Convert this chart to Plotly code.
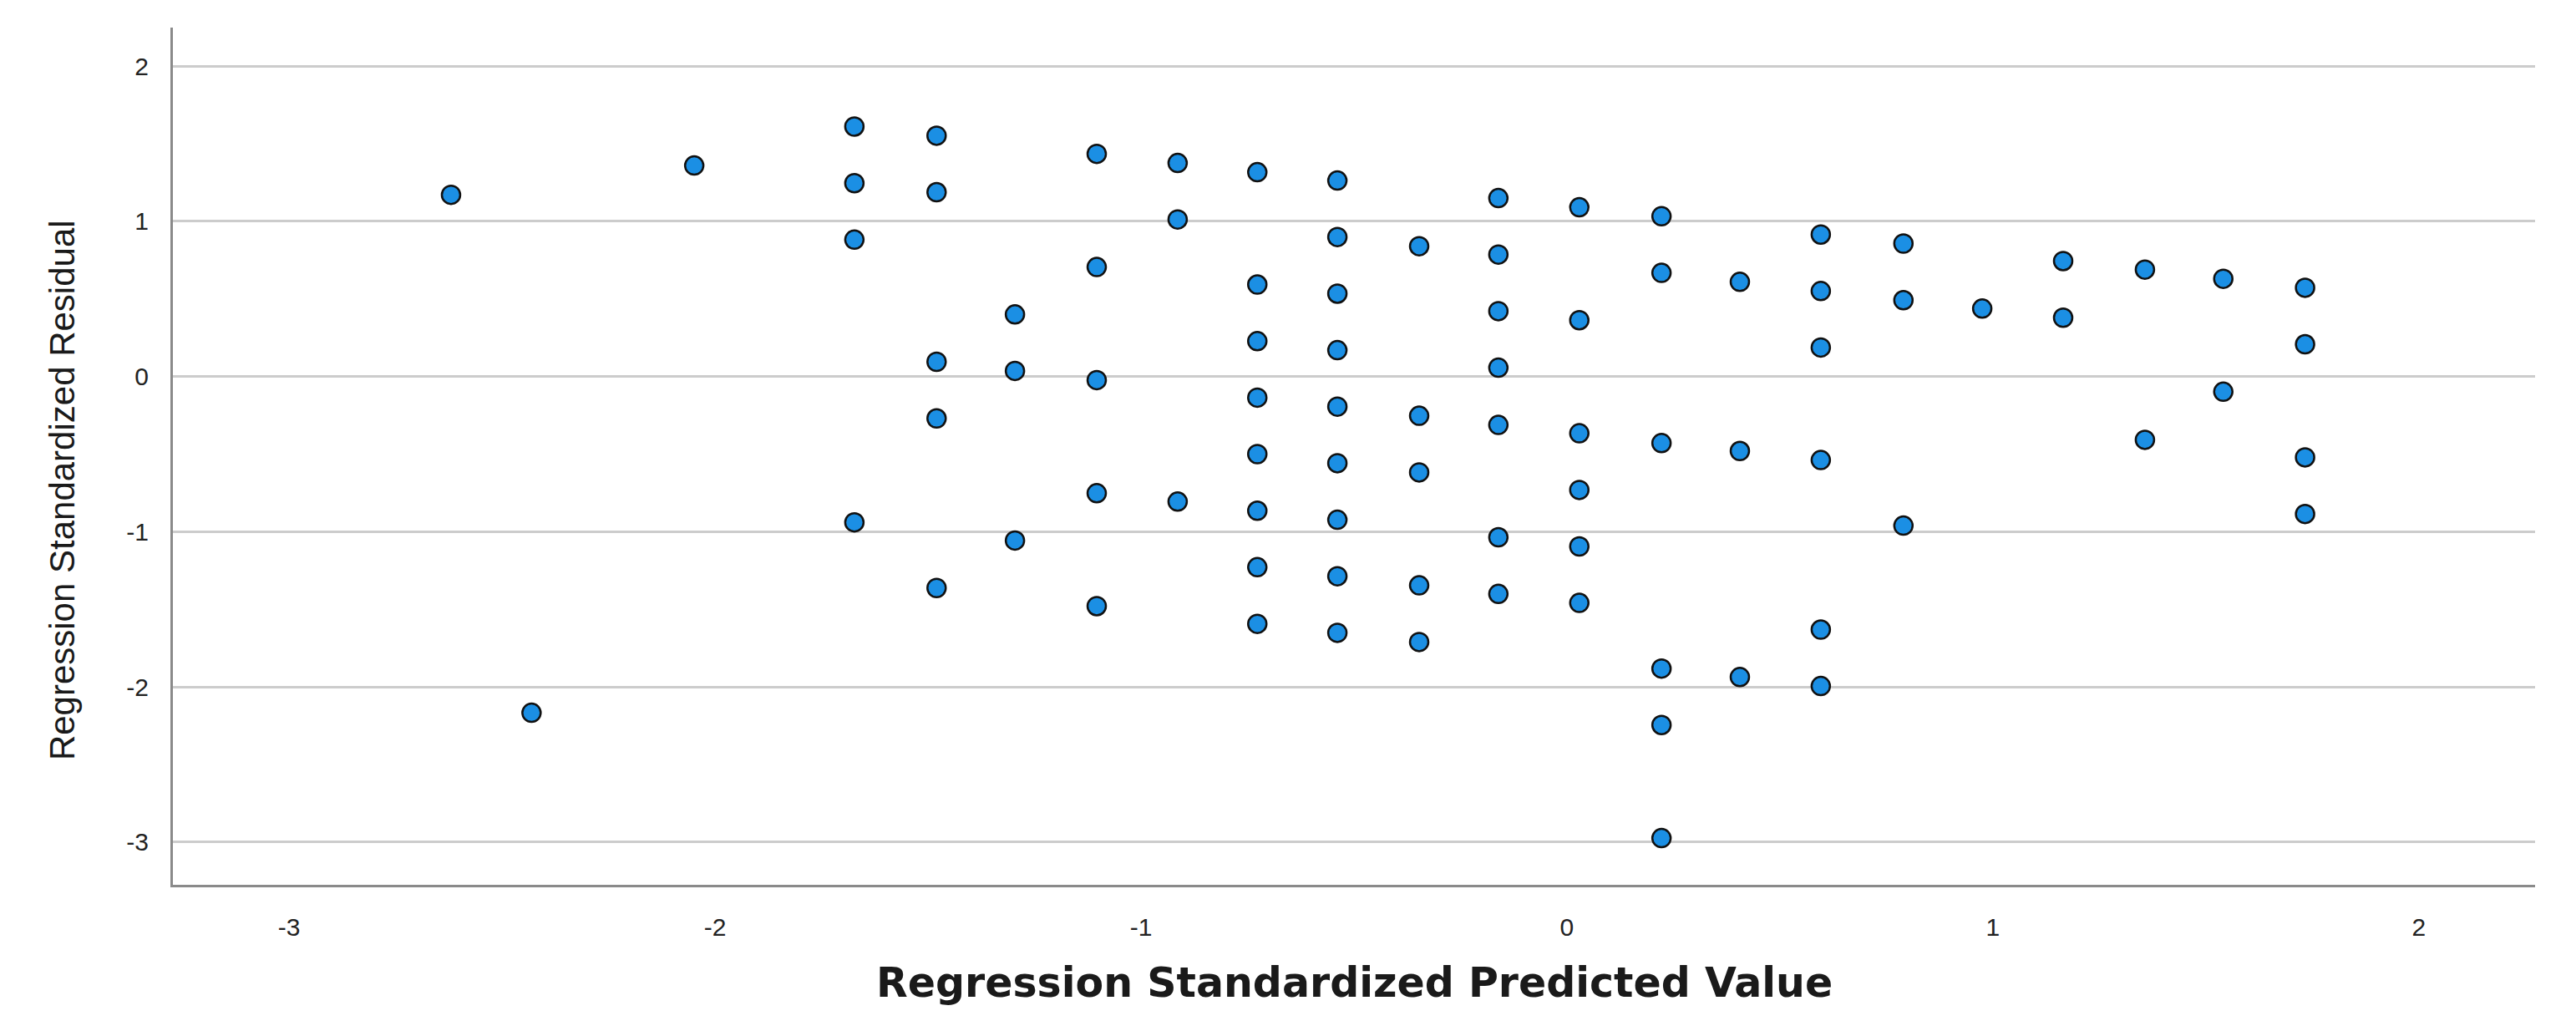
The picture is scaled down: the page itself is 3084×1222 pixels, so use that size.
import plotly.graph_objects as go

# Regression Standardized Predicted Value (x) and Residual (y)
pred_x = [
    -2.620,
    -2.431,
    -2.049,
    -1.673, -1.673, -1.673, -1.673,
    -1.480, -1.480, -1.480, -1.480, -1.480,
    -1.296, -1.296, -1.296,
    -1.104, -1.104, -1.104, -1.104, -1.104,
    -0.914, -0.914, -0.914,
    -0.727, -0.727, -0.727, -0.727, -0.727, -0.727, -0.727, -0.727,
    -0.539, -0.539, -0.539, -0.539, -0.539, -0.539, -0.539, -0.539, -0.539,
    -0.347, -0.347, -0.347, -0.347, -0.347,
    -0.161, -0.161, -0.161, -0.161, -0.161, -0.161, -0.161,
    0.029, 0.029, 0.029, 0.029, 0.029, 0.029,
    0.222, 0.222, 0.222, 0.222, 0.222, 0.222,
    0.406, 0.406, 0.406,
    0.596, 0.596, 0.596, 0.596, 0.596, 0.596,
    0.790, 0.790, 0.790,
    0.975,
    1.165, 1.165,
    1.357, 1.357,
    1.541, 1.541,
    1.733, 1.733, 1.733, 1.733,
]
resid_y = [
    1.171,
    -2.167,
    1.360,
    1.611, 1.246, 0.882, -0.940,
    1.552, 1.188, 0.095, -0.270, -1.363,
    0.400, 0.036, -1.057,
    1.435, 0.706, -0.023, -0.752, -1.480,
    1.376, 1.012, -0.806,
    1.317, 0.593, 0.228, -0.136, -0.500, -0.865, -1.229, -1.594,
    1.263, 0.899, 0.534, 0.170, -0.194, -0.559, -0.923, -1.287, -1.652,
    0.840, -0.253, -0.618, -1.346, -1.711,
    1.150, 0.786, 0.421, 0.057, -0.312, -1.036, -1.401,
    1.091, 0.363, -0.366, -0.731, -1.095, -1.459,
    1.033, 0.668, -0.429, -1.882, -2.246, -2.975,
    0.610, -0.480, -1.937,
    0.915, 0.551, 0.187, -0.538, -1.631, -1.995,
    0.857, 0.492, -0.961,
    0.438,
    0.744, 0.379,
    0.689, -0.408,
    0.630, -0.098,
    0.572, 0.208, -0.521, -0.886,
]
tick_vals = [-3, -2, -1, 0, 1, 2]
tick_text = ["-3", "-2", "-1", "0", "1", "2"]
x_title = "Regression Standardized Predicted Value"
y_title = "Regression Standardized Residual"

fig = go.Figure()
fig.add_trace(go.Scatter(
    x=pred_x, y=resid_y, mode="markers",
    marker=dict(size=22, color="#1b8fe4", line=dict(color="#111111", width=2.5)),
    showlegend=False, hoverinfo="x+y",
))

# page body adds an 8px offset, so the figure is 8px smaller and margins shifted
OFF = 8
W, H = 3084 - OFF, 1222 - OFF
L, R, T, B = 207 - OFF, 49, 33 - OFF, 163

fig.update_layout(
    width=W, height=H,
    margin=dict(l=L, r=R, t=T, b=B, pad=0),
    paper_bgcolor="white", plot_bgcolor="white",
    font=dict(family="Liberation Sans, Arial, sans-serif", size=30, color="#222222"),
    xaxis=dict(
        range=[-3.273, 2.273], tickvals=tick_vals, ticktext=tick_text,
        showgrid=False, zeroline=False,
        showline=True, linecolor="#8a8a8a", linewidth=3, ticks="",
        ticklabelstandoff=22, tickfont=dict(size=30, color="#222222"),
    ),
    yaxis=dict(
        range=[-3.276, 2.249], tickvals=tick_vals, ticktext=tick_text,
        showgrid=True, gridcolor="#cccccc", gridwidth=2.5, zeroline=False,
        showline=True, linecolor="#8a8a8a", linewidth=3, ticks="",
        ticklabelstandoff=20, tickfont=dict(size=30, color="#222222"),
    ),
    annotations=[
        dict(text="<b>" + x_title + "</b>", xref="paper", yref="paper", x=0.5, y=-0.115,
             xanchor="center", yanchor="middle", showarrow=False,
             font=dict(family="DejaVu Sans, Verdana, sans-serif", size=49, color="#1a1a1a")),
        dict(text=y_title, xref="paper", yref="paper", x=-0.047, y=0.46,
             xanchor="center", yanchor="middle", showarrow=False, textangle=-90,
             font=dict(family="Liberation Sans Narrow, Arial Narrow, Liberation Sans, sans-serif",
                       size=42, color="#1a1a1a")),
    ],
)

fig.write_html("out.html")
